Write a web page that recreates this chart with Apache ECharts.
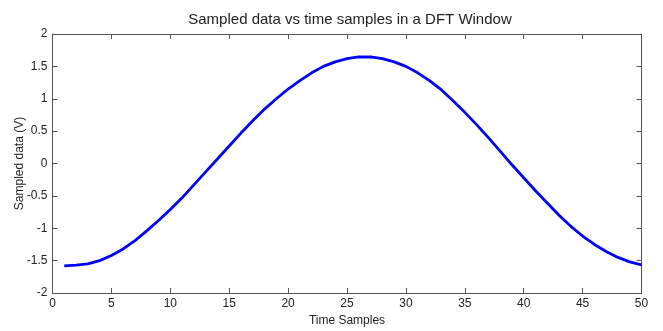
<!DOCTYPE html>
<html>
<head>
<meta charset="utf-8">
<script src="https://cdn.jsdelivr.net/npm/echarts@6/dist/echarts.min.js"></script>
<style>html,body{margin:0;padding:0;background:#fff;}#c{width:663px;height:331px;}</style>
</head>
<body>
<div id="c"></div>
<script>
var timeSamples = [1,2,3,4,5,6,7,8,9,10,11,12,13,14,15,16,17,18,19,20,21,22,23,24,25,26,27,28,29,30,31,32,33,34,35,36,37,38,39,40,41,42,43,44,45,46,47,48,49,50];
var sampledData = [-1.58,-1.57,-1.55,-1.50,-1.42,-1.32,-1.19,-1.04,-0.88,-0.71,-0.53,-0.33,-0.13,0.07,0.27,0.47,0.66,0.84,1.00,1.15,1.28,1.40,1.50,1.57,1.62,1.645,1.645,1.62,1.57,1.50,1.40,1.28,1.14,0.97,0.79,0.60,0.40,0.19,-0.02,-0.22,-0.42,-0.61,-0.80,-0.97,-1.12,-1.25,-1.36,-1.45,-1.52,-1.565];
var titleText = 'Sampled data vs time samples in a DFT Window';
var xName = 'Time Samples';
var yName = 'Sampled data (V)';

var pts = timeSamples.map(function(t,i){return [t, sampledData[i]];});
var axisCol = '#555';
var font = 'Liberation Sans, Arial, sans-serif';
var chart = echarts.init(document.getElementById('c'), null, {renderer:'canvas'});
function mkAxis(extra){
  var base = {
    type:'value',
    nameMoveOverlap:false,
    axisLine:{show:true,onZero:false,lineStyle:{color:axisCol,width:1}},
    axisTick:{show:true,inside:true,length:5,lineStyle:{color:axisCol}},
    splitLine:{show:false},
    axisLabel:{color:'#222',fontSize:12,fontFamily:font},
    nameTextStyle:{color:'#222',fontSize:12,fontFamily:font}
  };
  for (var k in extra) base[k]=extra[k];
  return base;
}
chart.setOption({
  animation:false,
  backgroundColor:'#fff',
  title:{text:titleText,left:345,textAlign:'center',top:7,textStyle:{fontSize:15,fontWeight:'normal',color:'#222',fontFamily:font}},
  grid:{left:52.5,right:21.5,top:34,bottom:38,containLabel:false,outerBoundsMode:'none'},
  xAxis:[
    mkAxis({min:0,max:50,interval:5,position:'bottom',name:xName,nameLocation:'middle',nameGap:22,axisLabel:{color:'#222',fontSize:12,fontFamily:font,margin:5}}),
    mkAxis({min:0,max:50,interval:5,position:'top',axisLabel:{show:false}})
  ],
  yAxis:[
    mkAxis({min:-2,max:2,interval:0.5,position:'left',name:yName,nameLocation:'middle',nameGap:27,axisLabel:{color:'#222',fontSize:12,fontFamily:font,margin:5}}),
    mkAxis({min:-2,max:2,interval:0.5,position:'right',axisLabel:{show:false}})
  ],
  series:[{type:'line',data:pts,xAxisIndex:0,yAxisIndex:0,showSymbol:false,symbol:'none',lineStyle:{color:'#0000ff',width:2.8},smooth:false}]
});
</script>
</body>
</html>
